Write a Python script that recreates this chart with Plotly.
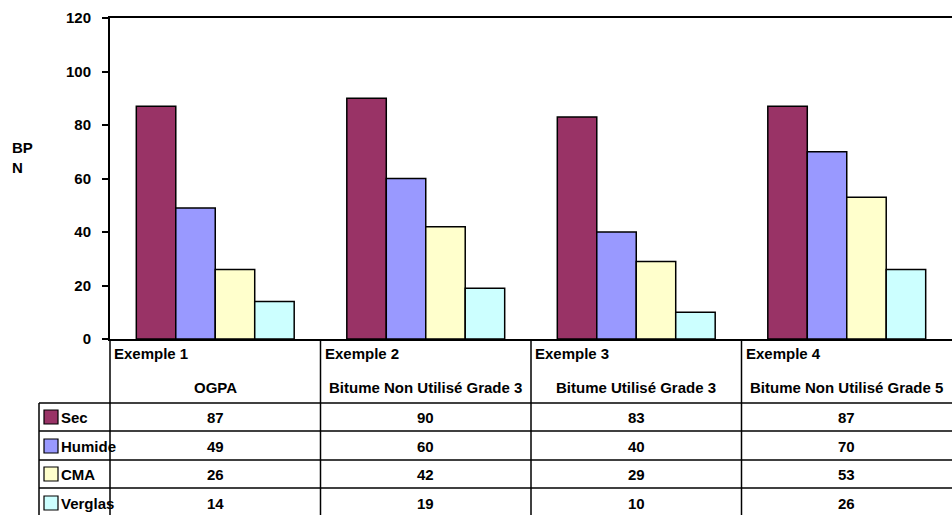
import plotly.graph_objects as go

# Chart data
categories = ["Exemple 1", "Exemple 2", "Exemple 3", "Exemple 4"]
subtitles = ["OGPA", "Bitume Non Utilisé Grade 3", "Bitume Utilisé Grade 3",
             "Bitume Non Utilisé Grade 5"]
series_names = ["Sec", "Humide", "CMA", "Verglas"]
sec = [87, 90, 83, 87]
humide = [49, 60, 40, 70]
cma = [26, 42, 29, 53]
verglas = [14, 19, 10, 26]
colors = ["#993366", "#9999FF", "#FFFFCC", "#CCFFFF"]
y_ticks = [0, 20, 40, 60, 80, 100, 120]

values = [sec, humide, cma, verglas]

W, H = 952, 515
L, R, T, B = 110, 0, 18, 176
PW, PH = W - L - R, H - T - B
FONT = "Liberation Sans, Arial, sans-serif"


def py(pix):
    """Pixel row -> paper y."""
    return (H - B - pix) / PH


def px(pix):
    """Pixel column -> paper x."""
    return (pix - L) / PW


fig = go.Figure()
for name, vals, col in zip(series_names, values, colors):
    fig.add_trace(go.Bar(
        x=list(range(len(categories))), y=vals, name=name,
        marker=dict(color=col, line=dict(color="black", width=1.5)),
        showlegend=False, hoverinfo="skip",
    ))

shapes = []
annotations = []
line = dict(color="black", width=1.5)

# data-table grid: vertical separators between categories
for i in range(1, len(categories)):
    shapes.append(dict(type="line", xref="x", yref="paper",
                       x0=i - 0.5, x1=i - 0.5, y0=0, y1=py(H + 5), line=line))
shapes.append(dict(type="line", xref="paper", yref="paper",
                   x0=0, x1=0, y0=0, y1=py(H + 5), line=line))
# left edge of the series-label column
shapes.append(dict(type="line", xref="paper", yref="paper",
                   x0=px(39), x1=px(39), y0=py(403), y1=py(H + 5), line=line))
# horizontal row separators
for yy in [403, 431, 460, 488]:
    shapes.append(dict(type="line", xref="paper", yref="paper",
                       x0=px(39), x1=1, y0=py(yy), y1=py(yy), line=line))

# category headers
for i, (cat, sub) in enumerate(zip(categories, subtitles)):
    annotations.append(dict(x=i - 0.5, y=py(354), xref="x", yref="paper",
                            text=cat, showarrow=False, xanchor="left",
                            xshift=2, yanchor="middle",
                            font=dict(family=FONT, size=15, color="black",
                                      weight="bold")))
    annotations.append(dict(x=i, y=py(388), xref="x", yref="paper",
                            text=sub, showarrow=False, xanchor="center",
                            yanchor="middle",
                            font=dict(family=FONT, size=15, color="black",
                                      weight="bold")))

# table rows: legend key, series name and values
row_centers = [417, 446, 474, 503]
for name, vals, col, yc in zip(series_names, values, colors, row_centers):
    shapes.append(dict(type="rect", xref="paper", yref="paper",
                       x0=px(44), x1=px(58), y0=py(yc - 7), y1=py(yc + 7),
                       fillcolor=col, line=dict(color="black", width=1.2)))
    annotations.append(dict(x=px(59), y=py(yc), xref="paper", yref="paper",
                            text=name, showarrow=False, xanchor="left",
                            yanchor="middle",
                            font=dict(family=FONT, size=15, color="black",
                                      weight="bold")))
    for i, v in enumerate(vals):
        annotations.append(dict(x=i, y=py(yc), xref="x", yref="paper",
                                text=str(v), showarrow=False,
                                xanchor="center", yanchor="middle",
                                font=dict(family=FONT, size=15, color="black",
                                          weight="bold")))

# y-axis title
annotations.append(dict(x=px(10), y=py(157), xref="paper", yref="paper",
                        text="BP<br>N", showarrow=False, xanchor="left",
                        yanchor="middle", align="left",
                        font=dict(family=FONT, size=15, color="black",
                                  weight="bold")))

fig.update_layout(
    width=W, height=H,
    margin=dict(l=L, r=R, t=T, b=B, pad=0),
    paper_bgcolor="white", plot_bgcolor="white",
    barmode="group", bargap=0.25, bargroupgap=0,
    font=dict(family=FONT, size=15, color="black", weight="bold"),
    xaxis=dict(range=[-0.5, len(categories) - 0.5], showticklabels=False,
               ticks="", showgrid=False, zeroline=False,
               showline=True, linecolor="black", linewidth=2, mirror=True),
    yaxis=dict(range=[0, 120], tickvals=y_ticks, ticks="outside", ticklen=6,
               tickwidth=1.5, tickcolor="black", showgrid=False,
               zeroline=False, showline=True, linecolor="black", linewidth=2,
               ticklabelstandoff=8,
               tickfont=dict(family=FONT, size=15, color="black",
                             weight="bold")),
    shapes=shapes, annotations=annotations,
)

fig.write_html("out.html")
